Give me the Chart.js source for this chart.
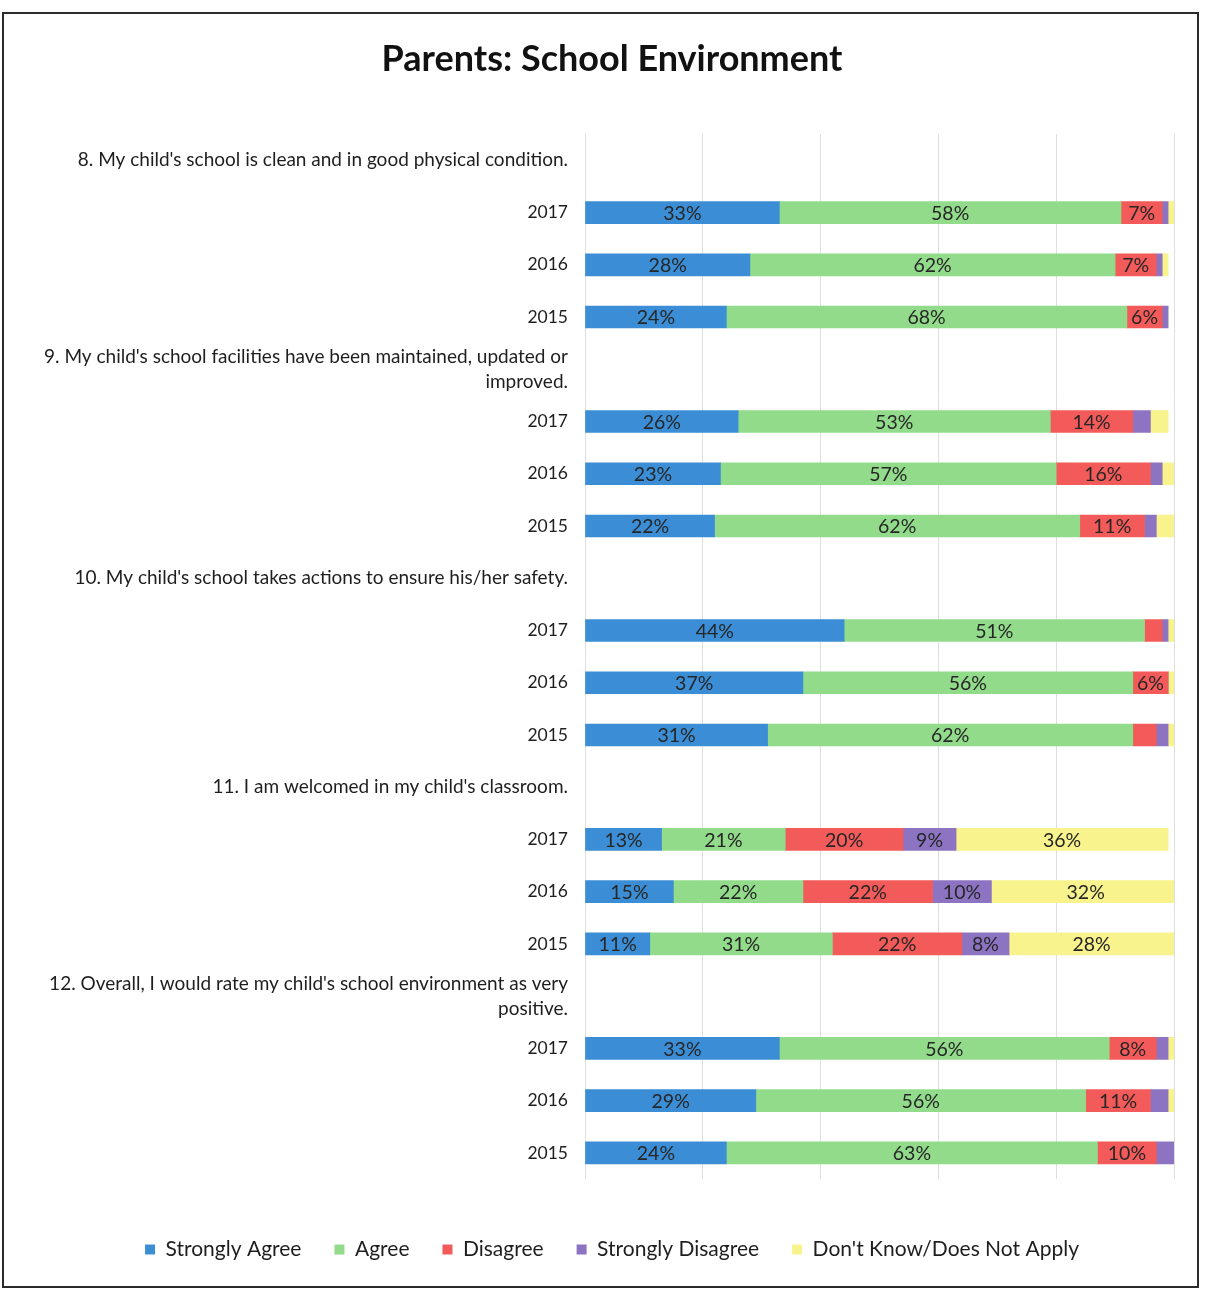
<!DOCTYPE html>
<html>
<head>
<meta charset="utf-8">
<title>Parents: School Environment</title>
<script src="https://cdn.jsdelivr.net/npm/chart.js@4.4.1/dist/chart.umd.min.js"></script>
<style>
  html, body { margin: 0; padding: 0; background: #fff; }
  #wrap { position: relative; width: 1214px; height: 1294px; overflow: hidden; }
  #chart { position: absolute; left: 0; top: 0; }
  .frame { position: absolute; left: 2px; top: 12px; width: 1193px; height: 1272px;
           border: 2px solid #2b2b2b; pointer-events: none; }
</style>
</head>
<body>
<div id="wrap">
  <canvas id="chart" width="1214" height="1294"></canvas>
  <div class="frame"></div>
</div>
<script>
// Survey questions (each followed by one row per survey year)
const questions = [
  "8. My child's school is clean and in good physical condition.",
  ["9. My child's school facilities have been maintained, updated or", "improved."],
  "10. My child's school takes actions to ensure his/her safety.",
  "11. I am welcomed in my child's classroom.",
  ["12. Overall, I would rate my child's school environment as very", "positive."]
];
const years = ["2017", "2016", "2015"];

// Response shares (%), in question order, years 2017, 2016, 2015
const stronglyAgree    = [33, 28, 24,  26, 23, 22,  44, 37, 31,  13, 15, 11,  33, 29, 24];
const agree            = [58, 62, 68,  53, 57, 62,  51, 56, 62,  21, 22, 31,  56, 56, 63];
const disagree         = [ 7,  7,  6,  14, 16, 11,   3,  6,  4,  20, 22, 22,   8, 11, 10];
const stronglyDisagree = [ 1,  1,  1,   3,  2,  2,   1,  0,  2,   9, 10,  8,   2,  3,  3];
const dontKnow         = [ 1,  1,  0,   3,  2,  3,   1,  1,  1,  36, 32, 28,   1,  1,  0];

const seriesNames  = ["Strongly Agree", "Agree", "Disagree", "Strongly Disagree", "Don't Know/Does Not Apply"];
const seriesValues = [stronglyAgree, agree, disagree, stronglyDisagree, dontKnow];
const seriesColors = ["#3b8ed6", "#92db8b", "#f25b59", "#8c74c2", "#f8f38c"];

// Build category rows: a heading row per question (no bar) then its years
const rowLabels = [];
const rowIndex = [];   // index into the value arrays, or null for heading rows
questions.forEach((q, qi) => {
  rowLabels.push(q);
  rowIndex.push(null);
  years.forEach((y, yi) => {
    rowLabels.push(y);
    rowIndex.push(qi * years.length + yi);
  });
});

const datasets = seriesNames.map((name, si) => ({
  label: name,
  data: rowIndex.map(idx => idx === null ? null : seriesValues[si][idx]),
  backgroundColor: seriesColors[si],
  borderWidth: 0,
  barThickness: 22
}));

const FONT = "Lato, 'Open Sans', sans-serif";

// Percentage labels centred inside each segment
const segmentLabels = {
  id: 'segmentLabels',
  afterDatasetsDraw(chart) {
    const ctx = chart.ctx;
    ctx.save();
    ctx.font = "19.5px " + FONT;
    ctx.fillStyle = "#262626";
    ctx.textAlign = "center";
    ctx.textBaseline = "middle";
    chart.data.datasets.forEach((ds, di) => {
      const meta = chart.getDatasetMeta(di);
      meta.data.forEach((bar, i) => {
        const v = ds.data[i];
        if (v == null || v < 5) return;
        const p = bar.getProps(['x', 'y', 'base'], true);
        ctx.fillText(v + "%", (p.x + p.base) / 2, p.y + 1);
      });
    });
    ctx.restore();
  }
};

new Chart(document.getElementById('chart'), {
  type: 'bar',
  data: { labels: rowLabels, datasets },
  options: {
    indexAxis: 'y',
    responsive: false,
    animation: false,
    devicePixelRatio: 1,
    layout: { padding: { left: 10, right: 0, top: 0, bottom: 24 } },
    scales: {
      x: {
        stacked: true,
        min: 0,
        max: 100,
        ticks: { display: false, stepSize: 20 },
        grid: { color: "#dedede", lineWidth: 1, drawTicks: false },
        border: { display: false },
        afterFit(scale) { scale.height = 27; }
      },
      y: {
        stacked: true,
        grid: { display: false, drawTicks: false },
        border: { display: false },
        ticks: {
          autoSkip: false,
          color: "#1e1e1e",
          padding: 17,
          font: (c) => ({
            family: FONT,
            size: (c.index % 4 === 0) ? 19 : 17.5,
            lineHeight: (c.index % 4 === 0) ? 1.32 : 1.2
          })
        },
        afterFit(scale) { scale.width = 575; }
      },
      // empty right-hand margin beside the plot
      yRight: {
        type: 'category',
        position: 'right',
        display: true,
        ticks: { display: false },
        grid: { display: false, drawTicks: false },
        border: { display: false },
        afterFit(scale) { scale.width = 40; }
      }
    },
    plugins: {
      title: {
        display: true,
        text: "Parents: School Environment",
        color: "#111",
        font: { family: FONT, size: 36, weight: 'bold', lineHeight: 1.2 },
        padding: { top: 38, bottom: 53 }
      },
      legend: {
        position: 'bottom',
        labels: {
          color: "#1e1e1e",
          boxWidth: 10,
          boxHeight: 10,
          padding: 33,
          font: { family: FONT, size: 21 }
        }
      },
      tooltip: { enabled: false }
    }
  },
  plugins: [segmentLabels]
});
</script>
</body>
</html>
